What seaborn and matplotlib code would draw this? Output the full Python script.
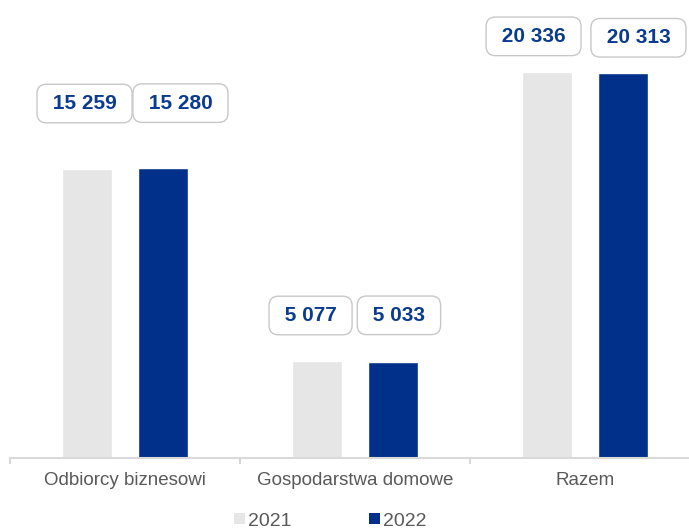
import matplotlib
matplotlib.use("Agg")
import matplotlib.pyplot as plt
import seaborn as sns
import pandas as pd
from matplotlib.patches import Patch

categories = ["Odbiorcy biznesowi", "Gospodarstwa domowe", "Razem"]
years = ["2021", "2022"]
values_2021 = [15259, 5077, 20336]
values_2022 = [15280, 5033, 20313]

colors = {"2021": "#e6e6e6", "2022": "#00308a"}
label_color = "#0b3b8f"
# label offsets (pixels) relative to bar top-centre, per year then per category
label_dx = {"2021": [-2.5, -6.5, -13.5], "2022": [17.5, 6.0, 15.5]}
label_dy = {"2021": [65, 46, 36], "2022": [65, 47, 35]}

df = pd.DataFrame({
    "category": categories * 2,
    "year": ["2021"] * 3 + ["2022"] * 3,
    "value": values_2021 + values_2022,
})

sns.set_theme(style="white")
plt.rcParams["font.family"] = ["Liberation Sans", "DejaVu Sans"]

fig = plt.figure(figsize=(6.89, 5.31), dpi=100)
W, H = 689, 531
ax = fig.add_axes([10 / W, (H - 457.7) / H, 690 / W, 457.7 / H])

sns.barplot(data=df, x="category", y="value", hue="year", order=categories,
            hue_order=years, palette=colors, width=0.66, gap=0.346,
            saturation=1, legend=False, ax=ax)

ax.set_xlim(-0.5, 2.5)
ax.set_ylim(0, 457.7 / 0.01895)
ax.set_xlabel("")
ax.set_ylabel("")
ax.set_yticks([])
for s in ["left", "top", "right"]:
    ax.spines[s].set_visible(False)
ax.spines["bottom"].set_color("#d9d9d9")
ax.spines["bottom"].set_linewidth(1.5)

ax.set_xticks([-0.5, 0.5, 1.5, 2.5])
ax.set_xticklabels([])
ax.tick_params(axis="x", which="major", length=4.5, width=1.2, color="#d0d0d0",
               bottom=True)
ax.set_xticks([0, 1, 2], minor=True)
ax.set_xticklabels(categories, minor=True, fontsize=13.5, color="#595959")
ax.tick_params(axis="x", which="minor", length=0, pad=10.5)

vals = {"2021": values_2021, "2022": values_2022}
containers = ax.containers
for yr, cont in zip(years, containers):
    for i, bar in enumerate(cont):
        xc = bar.get_x() + bar.get_width() / 2
        top = bar.get_height()
        txt = " " + f"{vals[yr][i]:,}".replace(",", " ") + " "
        ax.annotate(txt, xy=(xc, top), xytext=(label_dx[yr][i], label_dy[yr][i]),
                    textcoords="offset pixels", ha="center", va="center",
                    fontsize=15, fontweight="bold", color=label_color,
                    bbox=dict(boxstyle="round,pad=0.47,rounding_size=0.45",
                              fc="white", ec="#c8c8c8", lw=1),
                    annotation_clip=False)

handles = [Patch(facecolor=colors[y], edgecolor="none", label=y) for y in years]
fig.legend(handles=handles, loc="center", bbox_to_anchor=(330 / W, 1 - 521 / H),
           ncol=2, frameon=False, fontsize=14, handlelength=0.55, handleheight=0.55,
           handletextpad=0.15, columnspacing=4.0, labelcolor="#595959")

fig.savefig("out.png", dpi=100)
